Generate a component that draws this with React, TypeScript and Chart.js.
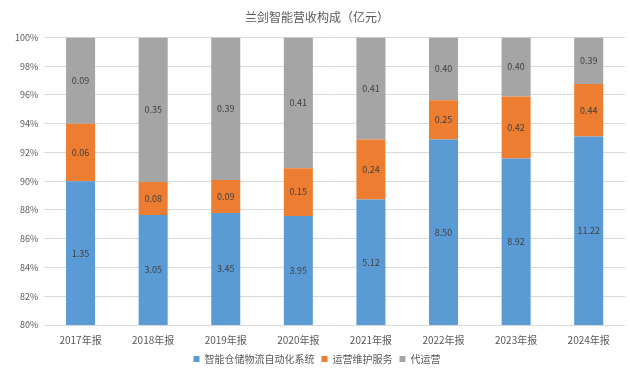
import React, { useEffect, useRef } from "react";
import { Chart, registerables } from "chart.js";

Chart.register(...registerables);

const categories = ["2017年报", "2018年报", "2019年报", "2020年报", "2021年报", "2022年报", "2023年报", "2024年报"];
const smartWarehouse = [1.35, 3.05, 3.45, 3.95, 5.12, 8.5, 8.92, 11.22];
const opsMaintenance = [0.06, 0.08, 0.09, 0.15, 0.24, 0.25, 0.42, 0.44];
const agencyOps = [0.09, 0.35, 0.39, 0.41, 0.41, 0.4, 0.4, 0.39];
const seriesNames = ["智能仓储物流自动化系统", "运营维护服务", "代运营"];
const yTicks = [80, 82, 84, 86, 88, 90, 92, 94, 96, 98, 100];

const FONT = '"Noto Sans CJK SC", "Noto Sans", sans-serif';

const labelPlugin = {
  id: "segLabels",
  afterDatasetsDraw(chart: any) {
    const { ctx, chartArea } = chart;
    ctx.save();
    ctx.font = `9px ${FONT}`;
    ctx.fillStyle = "#404040";
    ctx.textAlign = "center";
    ctx.textBaseline = "middle";
    chart.data.datasets.forEach((ds: any, di: number) => {
      const meta = chart.getDatasetMeta(di);
      meta.data.forEach((el: any, i: number) => {
        const top = Math.max(Math.min(el.y, el.base), chartArea.top);
        const bot = Math.min(Math.max(el.y, el.base), chartArea.bottom);
        if (bot <= top) return;
        const raw = ds.raw[i];
        ctx.fillText(raw.toFixed(2), el.x, (top + bot) / 2);
      });
    });
    ctx.restore();
  },
};

export default function App() {
  const ref = useRef<HTMLCanvasElement>(null);
  useEffect(() => {
    const totals = smartWarehouse.map((v, i) => v + opsMaintenance[i] + agencyOps[i]);
    const pct = (arr: number[]) => arr.map((v, i) => (v / totals[i]) * 100);
    const common = { barPercentage: 0.4, categoryPercentage: 1 };
    const chart = new Chart(ref.current!, {
      type: "bar",
      data: {
        labels: categories,
        datasets: [
          { label: seriesNames[0], data: pct(smartWarehouse), raw: smartWarehouse, backgroundColor: "#5B9BD5", ...common } as any,
          { label: seriesNames[1], data: pct(opsMaintenance), raw: opsMaintenance, backgroundColor: "#ED7D31", ...common } as any,
          { label: seriesNames[2], data: pct(agencyOps), raw: agencyOps, backgroundColor: "#A5A5A5", ...common } as any,
        ],
      },
      options: {
        animation: false,
        responsive: false,
        layout: { padding: { left: 9, right: 5, top: 6, bottom: 4 } },
        plugins: {
          title: {
            display: true,
            text: "兰剑智能营收构成（亿元）",
            color: "#595959",
            font: { family: FONT, size: 12, weight: "normal" },
            padding: { top: 4, bottom: 13 },
          },
          legend: {
            position: "bottom",
            labels: {
              color: "#595959",
              font: { family: FONT, size: 10 },
              boxWidth: 6,
              boxHeight: 6,
              padding: 7,
            },
          },
          tooltip: { enabled: false },
        },
        scales: {
          x: {
            stacked: true,
            grid: { display: false },
            border: { display: false },
            ticks: { color: "#595959", font: { family: FONT, size: 10 }, padding: 1 },
          },
          y: {
            stacked: true,
            min: 80,
            max: 100,
            afterBuildTicks: (axis: any) => {
              axis.ticks = yTicks.map((v) => ({ value: v }));
            },
            grid: { color: "#D9D9D9", drawTicks: false },
            border: { display: false },
            ticks: { color: "#595959", font: { family: FONT, size: 9 }, padding: 6, callback: (v: any) => v + "%" },
          },
        },
      },
      plugins: [labelPlugin],
    } as any);
    return () => chart.destroy();
  }, []);
  return (
    <div style={{ position: "fixed", left: 0, top: 0, width: 630, height: 378, background: "#fff" }}>
      <canvas ref={ref} width={630} height={378} />
    </div>
  );
}
